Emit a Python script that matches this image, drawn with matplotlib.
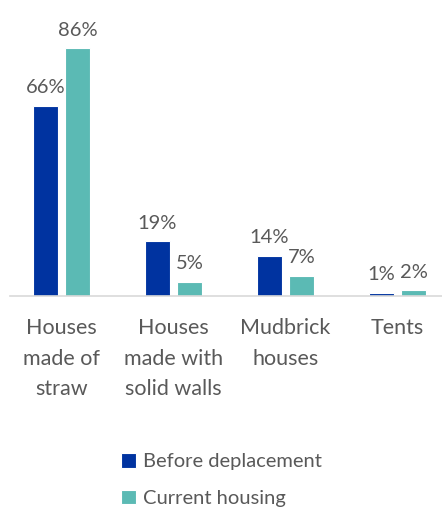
import matplotlib.pyplot as plt
import numpy as np

categories = ["Houses\nmade of\nstraw", "Houses\nmade with\nsolid walls", "Mudbrick\nhouses", "Tents"]
before = [66, 19, 14, 1]
current = [86, 5, 7, 2]
series_names = ["Before deplacement", "Current housing"]
colors = ["#0033A0", "#5BBAB4"]
text_color = "#595959"

plt.rcParams['font.family'] = ['Lato', 'DejaVu Sans']

fig = plt.figure(figsize=(4.42, 5.13), dpi=100)
ax = fig.add_axes([10 / 442, 1 - 296 / 513, 432 / 442, 288 / 513])

x = np.arange(len(categories))
w = 0.223
off = 0.143
b1 = ax.bar(x - off, before, w, color=colors[0], edgecolor="white", linewidth=0.8, label=series_names[0])
b2 = ax.bar(x + off, current, w, color=colors[1], edgecolor="white", linewidth=0.8, label=series_names[1])

# value labels above bars
for bars, vals in [(b1, before), (b2, current)]:
    for r, v in zip(bars, vals):
        ax.annotate(f"{v}%", (r.get_x() + r.get_width() / 2, r.get_height()),
                    xytext=(0, 7), textcoords="offset points", ha="center", va="bottom",
                    fontsize=14.5, color=text_color)

ax.set_xlim(-0.46, 3.397)
ax.set_ylim(0, 100)
ax.set_yticks([])
ax.set_xticks(x)
ax.set_xticklabels(categories, fontsize=15.5, color=text_color, linespacing=1.65)
ax.tick_params(axis="x", length=0, pad=16)
for s in ["top", "right", "left"]:
    ax.spines[s].set_visible(False)
ax.spines["bottom"].set_color("#D9D9D9")
ax.spines["bottom"].set_linewidth(1.2)

fig.legend(handles=[b1, b2], labels=series_names, loc="center left",
           bbox_to_anchor=(103 / 442, 1 - 480 / 513), frameon=False,
           fontsize=14.5, labelcolor=text_color, handlelength=0.75, handleheight=0.75,
           handletextpad=0.35, labelspacing=0.95)

fig.savefig("out.png", dpi=100)
